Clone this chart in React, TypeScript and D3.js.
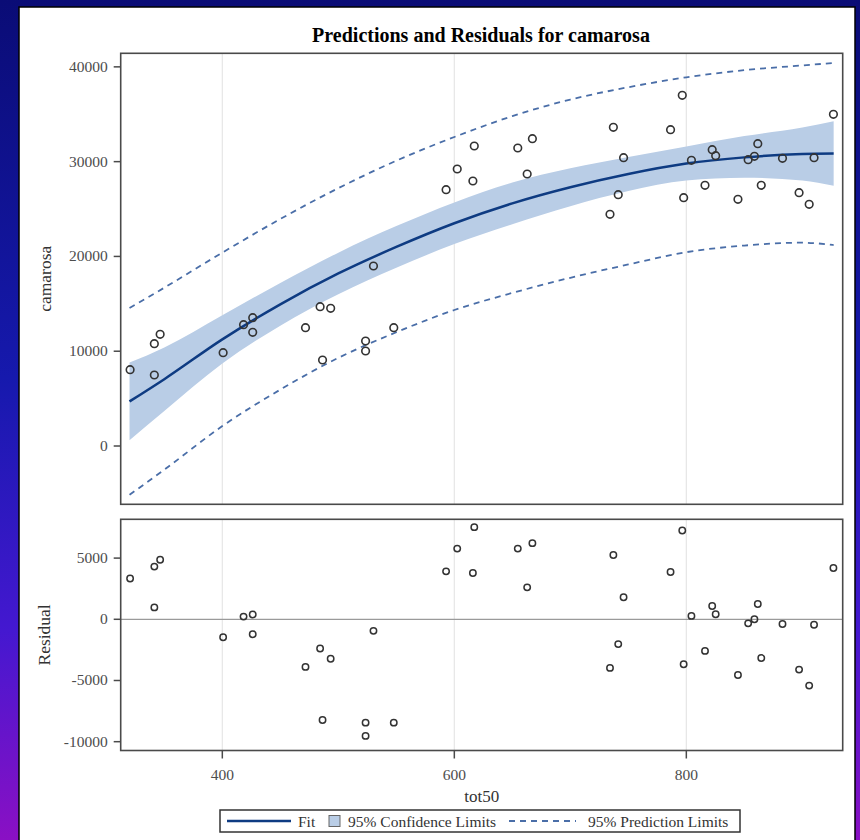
import React from 'react'
import * as d3 from 'd3'

// observations (tot50, camarosa) and their residuals
const tot50 = [
  320.5, 341.4, 346.4, 341.4, 400.7, 418.3, 426.2, 426.2, 471.7, 484.3, 486.4,
  493.4, 523.5, 523.5, 530.3, 547.8, 592.9, 602.5, 617.2, 616.0, 654.7, 662.8,
  667.3, 734.2, 737.1, 741.3, 745.9, 786.4, 796.5, 797.7, 804.4, 816.1, 822.3,
  825.3, 844.5, 853.3, 858.7, 861.6, 864.6, 882.9, 897.2, 905.9, 910.1, 926.8,
]
const camarosa = [
  8050, 10793, 11784, 7491, 9843, 12797, 13536, 11995, 12481, 14696, 9073,
  14527, 11078, 10023, 18990, 12481, 27040, 29224, 31650, 27958, 31439, 28696,
  32420, 24444, 33623, 26512, 30416, 33370, 36999, 26196, 30141, 27504, 31260,
  30627, 26027, 30205, 30563, 31893, 27504, 30352, 26723, 25499, 30416, 34994,
]
const residual = [
  3333, 4306, 4861, 972, -1472, 222, 389, -1222, -3889, -2389, -8222, -3222,
  -8444, -9528, -944, -8444, 3917, 5778, 7528, 3778, 5778, 2611, 6222, -3972,
  5250, -2028, 1806, 3861, 7250, -3667, 278, -2583, 1083, 417, -4556, -333, 0,
  1250, -3167, -389, -4111, -5417, -444, 4194,
]

// fitted curve and limits read along tot50
const gridT = [320, 350, 400, 450, 500, 550, 600, 650, 700, 750, 800, 850, 900, 927]
const fitV = [4700, 7050, 11250, 14950, 18200, 21000, 23500, 25600, 27300, 28700, 29800, 30450, 30800, 30850]
const uclmV = [8800, 10400, 13800, 17200, 20400, 23200, 25700, 27800, 29300, 30500, 31600, 32700, 33600, 34250]
const lclmV = [600, 3700, 8700, 12700, 16000, 18800, 21300, 23400, 25300, 26900, 28000, 28300, 28000, 27450]
const uclV = [14550, 16700, 20400, 23950, 27200, 30100, 32600, 34800, 36550, 37850, 38900, 39650, 40150, 40400]
const lclV = [-5150, -2500, 2100, 5950, 9300, 12000, 14350, 16150, 17750, 19150, 20450, 21150, 21450, 21200]

const xTicks = [400, 600, 800]
const yTicks = [0, 10000, 20000, 30000, 40000]
const rTicks = [-10000, -5000, 0, 5000]

const serif = '"Liberation Serif", "DejaVu Serif", serif'
const frameColor = '#4a4a4a'
const tickText = '#4d4d4d'

export default function App() {
  const left = 120.7
  const right = 842.7
  const top1 = 53.3
  const bot1 = 504.3
  const top2 = 519.3
  const bot2 = 750.5

  const x = d3.scaleLinear().domain([312.4, 934.8]).range([left, right])
  const y = d3.scaleLinear().domain([-6150, 41430]).range([bot1, top1])
  const yr = d3.scaleLinear().domain([-10720, 8170]).range([bot2, top2])

  const band = d3
    .area<number>()
    .x((_, i) => x(gridT[i]))
    .y0((_, i) => y(lclmV[i]))
    .y1((_, i) => y(uclmV[i]))
    .curve(d3.curveMonotoneX)
  const mkLine = (vals: number[]) =>
    d3
      .line<number>()
      .x((_, i) => x(gridT[i]))
      .y((_, i) => y(vals[i]))
      .curve(d3.curveMonotoneX)(vals) || ''

  const fitColor = '#0e3b82'
  const bandColor = '#b9cde6'
  const plColor = '#4a6ea8'

  return (
    <svg
      width={860}
      height={840}
      style={{ position: 'absolute', left: 0, top: 0, display: 'block' }}
      fontFamily={serif}
    >
      <defs>
        <linearGradient id="bg" x1="0" y1="0" x2="0" y2="1">
          <stop offset="0" stopColor="#0a0c76" />
          <stop offset="0.45" stopColor="#1619ad" />
          <stop offset="0.75" stopColor="#4418d0" />
          <stop offset="1" stopColor="#8a10c4" />
        </linearGradient>
        <clipPath id="c1">
          <rect x={left} y={top1} width={right - left} height={bot1 - top1} />
        </clipPath>
      </defs>
      <rect width={860} height={840} fill="url(#bg)" />
      <rect x={19} y={7} width={836} height={845} fill="#fff" stroke="#000" strokeWidth={1.5} />

      {/* title */}
      <text x={481} y={42} textAnchor="middle" fontSize={20} fontWeight="bold" fill="#000">
        Predictions and Residuals for camarosa
      </text>

      {/* top panel */}
      {xTicks.map((t) => (
        <line key={'g1' + t} x1={x(t)} x2={x(t)} y1={top1} y2={bot1} stroke="#e6e6e6" strokeWidth={1.2} />
      ))}
      <g clipPath="url(#c1)">
        <path d={band(gridT) || ''} fill={bandColor} />
        <path d={mkLine(uclV)} fill="none" stroke={plColor} strokeWidth={1.8} strokeDasharray="6 5" />
        <path d={mkLine(lclV)} fill="none" stroke={plColor} strokeWidth={1.8} strokeDasharray="6 5" />
        <path d={mkLine(fitV)} fill="none" stroke={fitColor} strokeWidth={2.5} />
      </g>
      {tot50.map((t, i) => (
        <circle key={'p' + i} cx={x(t)} cy={y(camarosa[i])} r={3.8} fill="none" stroke="#333" strokeWidth={1.6} />
      ))}
      <rect x={left} y={top1} width={right - left} height={bot1 - top1} fill="none" stroke={frameColor} strokeWidth={1.6} />
      {yTicks.map((v) => (
        <g key={'yt' + v}>
          <line x1={left - 7} x2={left} y1={y(v)} y2={y(v)} stroke={frameColor} strokeWidth={1.5} />
          <text x={left - 13} y={y(v) + 5} textAnchor="end" fontSize={15.5} fill={tickText}>
            {v}
          </text>
        </g>
      ))}
      <text transform={`translate(51,${(top1 + bot1) / 2}) rotate(-90)`} textAnchor="middle" fontSize={17.5} fill="#333">
        camarosa
      </text>

      {/* residual panel */}
      {xTicks.map((t) => (
        <line key={'g2' + t} x1={x(t)} x2={x(t)} y1={top2} y2={bot2} stroke="#e6e6e6" strokeWidth={1.2} />
      ))}
      <line x1={left} x2={right} y1={yr(0)} y2={yr(0)} stroke="#9a9a9a" strokeWidth={1.3} />
      {tot50.map((t, i) => (
        <circle key={'r' + i} cx={x(t)} cy={yr(residual[i])} r={3.2} fill="none" stroke="#333" strokeWidth={1.5} />
      ))}
      <rect x={left} y={top2} width={right - left} height={bot2 - top2} fill="none" stroke={frameColor} strokeWidth={1.6} />
      {rTicks.map((v) => (
        <g key={'rt' + v}>
          <line x1={left - 7} x2={left} y1={yr(v)} y2={yr(v)} stroke={frameColor} strokeWidth={1.5} />
          <text x={left - 13} y={yr(v) + 5} textAnchor="end" fontSize={15.5} fill={tickText}>
            {v}
          </text>
        </g>
      ))}
      <text transform={`translate(50,${(top2 + bot2) / 2}) rotate(-90)`} textAnchor="middle" fontSize={17.5} fill="#333">
        Residual
      </text>
      {xTicks.map((t) => (
        <g key={'xt' + t}>
          <line x1={x(t)} x2={x(t)} y1={bot2} y2={bot2 + 8} stroke={frameColor} strokeWidth={1.5} />
          <text x={x(t)} y={780} textAnchor="middle" fontSize={15.5} fill={tickText}>
            {t}
          </text>
        </g>
      ))}
      <text x={(left + right) / 2} y={802} textAnchor="middle" fontSize={17} fill="#333">
        tot50
      </text>

      {/* legend */}
      <rect x={220} y={810} width={520} height={22} fill="#fff" stroke="#333" strokeWidth={1.5} />
      <line x1={227} x2={291} y1={821} y2={821} stroke={fitColor} strokeWidth={2.5} />
      <text x={298} y={827} fontSize={15.5} fill="#333">Fit</text>
      <rect x={329} y={815.5} width={11} height={11} fill={bandColor} stroke="#666" strokeWidth={1} />
      <text x={348} y={827} fontSize={15.5} fill="#333">95% Confidence Limits</text>
      <line x1={509} x2={576} y1={821} y2={821} stroke={plColor} strokeWidth={1.8} strokeDasharray="6 5" />
      <text x={588} y={827} fontSize={15.5} fill="#333">95% Prediction Limits</text>
    </svg>
  )
}
